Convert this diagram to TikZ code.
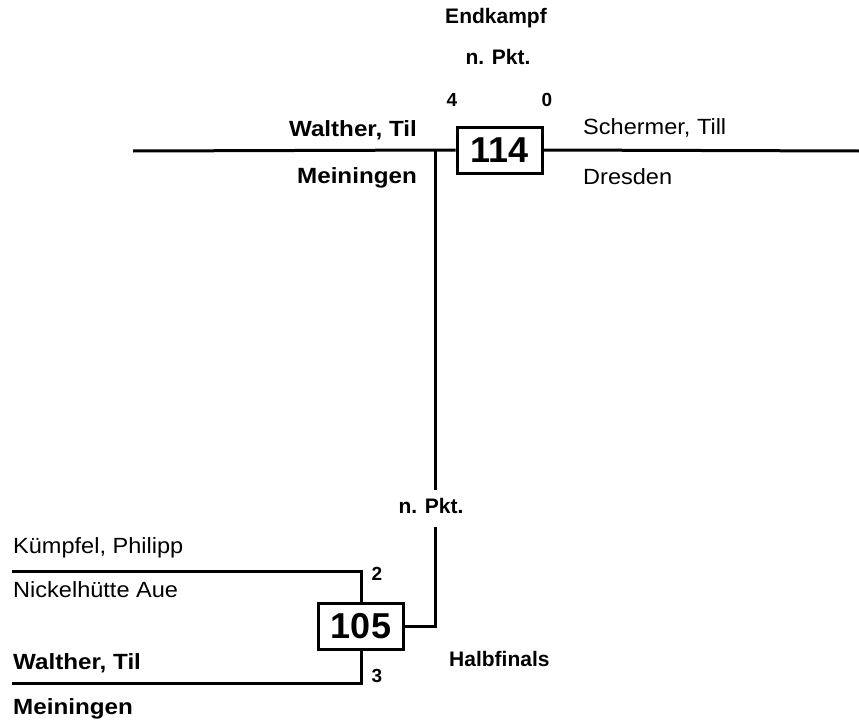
\documentclass[tikz,border=0pt]{standalone}
\usepackage{fontspec}
\setmainfont{Liberation Sans}
\newfontfamily\namefont[FakeStretch=1.07,BoldFeatures={FakeStretch=1.1}]{Liberation Sans}
\usetikzlibrary{positioning}

\begin{document}
\begin{tikzpicture}[x=1pt,y=-1pt]
  \tikzstyle{every node}=[inner sep=0pt]
  \tikzstyle{match}=[draw,line width=3pt,minimum width=85pt,minimum height=46pt,font=\bfseries\fontsize{36}{36}\selectfont]
  \tikzstyle{player}=[anchor=base west,font=\namefont\fontsize{22}{24}\selectfont]
  \tikzstyle{winner}=[anchor=base west,font=\namefont\bfseries\fontsize{22}{24}\selectfont]
  \tikzstyle{info}=[anchor=base,font=\bfseries\fontsize{21}{24}\selectfont]
  \tikzstyle{score}=[anchor=base,font=\bfseries\fontsize{19}{20}\selectfont]
  \tikzstyle{wire}=[line width=3pt]
  \useasboundingbox (0,0) rectangle (859,725);
  % Endkampf
  \node[match] (m114) at (499.5,150) {114};
  \node[info] (final) at (496,24) {Endkampf};
  \node[info] (pkt1) at (498,64) {n. Pkt.};
  \node[score] (s4) at (452,106) {4};
  \node[score] (s0) at (547,106) {0};
  \node[winner,anchor=base east] (w1) at (417,136) {Walther, Til};
  \node[winner,anchor=base east] (c1) at (417,183) {Meiningen};
  \node[player] (w2) at (583,134) {Schermer, Till};
  \node[player] (c2) at (583,184) {Dresden};
  \coordinate (tl) at (133,151);
  \coordinate (tr) at (859,151);
  \coordinate (j) at (435,151);
  \draw[wire] (tl) -- (m114.west);
  \draw[wire] (m114.east) -- (tr);
  % Halbfinals
  \node[match] (m105) at (361,626) {105};
  \node[info] (pkt2) at (431,513) {n. Pkt.};
  \node[score] (s2) at (377,580) {2};
  \node[score] (s3) at (377,682) {3};
  \node[info,anchor=base west] (half) at (449,666) {Halbfinals};
  \node[player] (p1) at (13,553) {Kümpfel, Philipp};
  \node[player] (p1c) at (13,597) {Nickelhütte Aue};
  \node[winner] (p2) at (13,669) {Walther, Til};
  \node[winner] (p2c) at (13,714) {Meiningen};
  \coordinate (a1) at (12,571);
  \coordinate (a2) at (12,683);
  \coordinate (up) at (435,490);
  \coordinate (lo) at (435,527);
  \draw[wire] (j) -- (up);
  \draw[wire] (lo) |- (m105.east);
  \draw[wire] (a1) -| (m105.north);
  \draw[wire] (a2) -| (m105.south);
\end{tikzpicture}
\end{document}
